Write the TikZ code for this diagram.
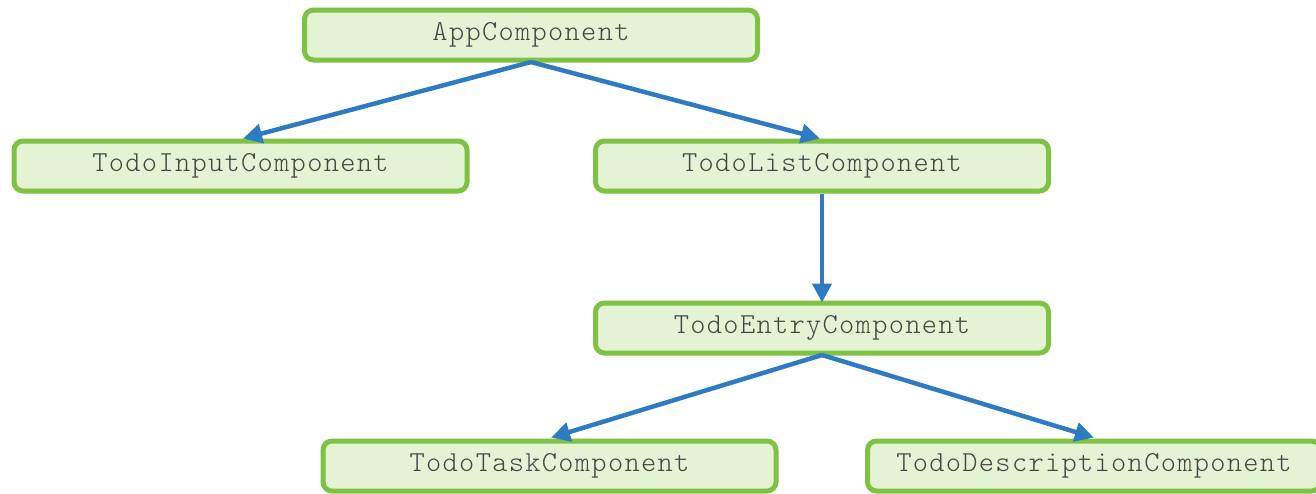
\documentclass[tikz,border=0pt]{standalone}
\usepackage{fontspec}
\setmonofont{Latin Modern Mono Light}[LetterSpace=4.5]
\usetikzlibrary{arrows.meta}
\definecolor{boxfill}{HTML}{E5F3D5}
\definecolor{boxline}{HTML}{7DC242}
\definecolor{arrowc}{HTML}{2E7BC4}
\definecolor{txt}{HTML}{454545}
\begin{document}
\begin{tikzpicture}[x=1pt,y=-1pt,
  comp/.style={draw=boxline, fill=boxfill, line width=5pt, rounded corners=9pt,
    minimum width=453pt, minimum height=50pt, inner sep=0pt,
    font=\ttfamily\fontsize{29}{31}\selectfont, text=txt},
  link/.style={draw=arrowc, line width=4.5pt, -{Triangle[length=19pt,width=19pt]}, shorten >=-2pt}]
\useasboundingbox (0,0) rectangle (1316,493);
\clip (0,0) rectangle (1316,493);
\node[comp] (app) at (531,35) {AppComponent};
\node[comp] (input) at (240.5,166) {TodoInputComponent};
\node[comp] (list) at (822,166) {TodoListComponent};
\node[comp] (entry) at (822,328) {TodoEntryComponent};
\node[comp] (task) at (549.5,466) {TodoTaskComponent};
\node[comp] (desc) at (1094,466) {TodoDescriptionComponent};
\coordinate (appb) at (531,62);
\coordinate (entb) at (822,355);
\draw[link] (appb) -- (245,138);
\draw[link] (appb) -- (818,138);
\draw[link] (list.south) -- (entry.north);
\draw[link] (entb) -- (553,437);
\draw[link] (entb) -- (1092,437);
\end{tikzpicture}
\end{document}
